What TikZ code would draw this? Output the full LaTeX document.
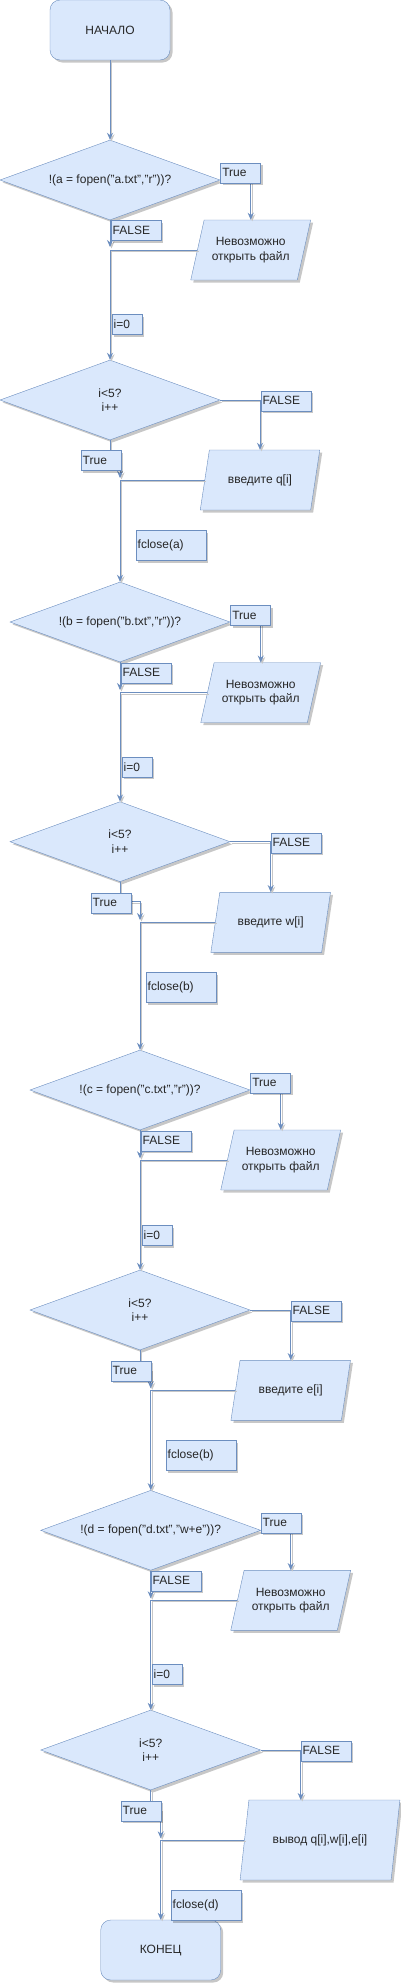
\documentclass[tikz,border=0pt]{standalone}
\usepackage{fontspec}
\setmainfont{Liberation Sans}
\usetikzlibrary{shapes.geometric,shadows,arrows.meta}
\definecolor{boxc}{HTML}{DAE8FC}
\definecolor{linec}{HTML}{6C8EBF}
\tikzset{
  shd/.style={drop shadow={shadow xshift=2.5pt, shadow yshift=-2.5pt, fill=black, opacity=0.22}},
  term/.style={shd, rectangle, rounded corners=10pt, draw=linec, fill=boxc,
    minimum width=120pt, minimum height=60pt},
  cond/.style={shd, diamond, aspect=2.75, draw=linec, fill=boxc, inner sep=1pt,
    minimum width=220pt, minimum height=80pt, align=center},
  io/.style={shd, trapezium, trapezium left angle=68, trapezium right angle=112,
    trapezium stretches=true, draw=linec, fill=boxc, inner sep=2pt,
    minimum width=#1, minimum height=60pt, align=center},
  io/.default=120pt,
  lbl/.style={shd, rectangle, draw=linec, fill=boxc, inner xsep=2pt, inner ysep=0pt,
    minimum height=20pt, text width=#1, align=left},
  flow/.style={draw=linec, line width=0.9pt,
    preaction={draw=black!22, line width=0.9pt, transform canvas={shift={(1.5pt,-1.5pt)}}}}
}
\begin{document}
\begin{tikzpicture}[x=1pt, y=-1pt, >={Stealth[length=7pt,width=6pt]},
    font=\fontsize{12}{14.3}\selectfont, text=black!85]
  \useasboundingbox (0,0) rectangle (401,1984);

  \node[term] (start) at (110,30) {НАЧАЛО};

  \node[cond] (d1) at (110,180) {!(a = fopen("a.txt","r"))?};
  \node[io] (p1) at (250.7,250) {Невозможно\\открыть файл};
  \coordinate (j1) at (110,247);
  \node[cond] (d2) at (110,400) {i<5?\\i++};
  \node[io] (p2) at (260,480) {введите q[i]};
  \coordinate (j2) at (120,478);

  \node[cond] (d3) at (120,622) {!(b = fopen("b.txt","r"))?};
  \node[io] (p3) at (260.7,692.7) {Невозможно\\открыть файл};
  \coordinate (j3) at (120,690);
  \node[cond] (d4) at (120,841.7) {i<5?\\i++};
  \node[io] (p4) at (270.7,922.3) {введите w[i]};
  \coordinate (j4) at (140,920);

  \node[cond] (d5) at (140,1090) {!(c = fopen("c.txt","r"))?};
  \node[io] (p5) at (280.7,1160) {Невозможно\\открыть файл};
  \coordinate (j5) at (140,1158.3);
  \node[cond] (d6) at (140,1310) {i<5?\\i++};
  \node[io] (p6) at (290.7,1390.3) {введите e[i]};
  \coordinate (j6) at (150.7,1388.3);

  \node[cond] (d7) at (150.7,1530.3) {!(d = fopen("d.txt","w+e"))?};
  \node[io] (p7) at (290.7,1600.3) {Невозможно\\открыть файл};
  \coordinate (j7) at (150.7,1598.3);
  \node[cond] (d8) at (150.7,1750) {i<5?\\i++};
  \node[io=160pt, minimum height=80pt] (p8) at (320,1840) {вывод q[i],w[i],e[i]};
  \coordinate (j8) at (160.7,1838.3);

  \node[term] (stop) at (160.7,1950) {КОНЕЦ};

  \draw[flow,->] (start) -- (d1);
  \foreach \d/\p in {d1/p1, d2/p2, d3/p3, d4/p4, d5/p5, d6/p6, d7/p7}
    \draw[flow,->] (\d.east) -| (\p.north);
  \draw[flow,->] (d8.east) -| (300.7,1800);
  \foreach \d/\j in {d1/j1, d3/j3, d5/j5, d7/j7}
    \draw[flow,->] (\d.south) -- (\j);
  \foreach \d/\j in {d2/j2, d4/j4, d6/j6, d8/j8}
    \draw[flow,->] (\d.south) -- ++(0,20) -| (\j);
  \foreach \p/\d in {p1/d2, p2/d3, p3/d4, p4/d5, p5/d6, p6/d7, p7/d8, p8/stop}
    \draw[flow,->] (\p.west) -| (\d.north);

  \node[lbl=36pt] (t1) at (240.3,172.7) {True};
  \node[lbl=46pt] (f1) at (135.7,230) {FALSE};
  \node[lbl=26pt] (i1) at (126.7,324.3) {i=0};
  \node[lbl=46pt] (f2) at (285.7,400.7) {FALSE};
  \node[lbl=36pt] (t2) at (100.7,460.3) {True};
  \node[lbl=66pt, minimum height=30pt] (c1) at (170.7,545.3) {fclose(a)};

  \node[lbl=36pt] (t3) at (250.3,615) {True};
  \node[lbl=46pt] (f3) at (145.7,672.7) {FALSE};
  \node[lbl=26pt] (i3) at (136.7,766.7) {i=0};
  \node[lbl=46pt] (f4) at (295.7,842.7) {FALSE};
  \node[lbl=36pt] (t4) at (110.7,902.7) {True};
  \node[lbl=66pt, minimum height=30pt] (c2) at (180.7,987.3) {fclose(b)};

  \node[lbl=36pt] (t5) at (270.3,1082.7) {True};
  \node[lbl=46pt] (f5) at (165.7,1140.7) {FALSE};
  \node[lbl=26pt] (i5) at (156.7,1235) {i=0};
  \node[lbl=46pt] (f6) at (315.7,1310.7) {FALSE};
  \node[lbl=36pt] (t6) at (130.7,1370.7) {True};
  \node[lbl=66pt, minimum height=30pt] (c3) at (200.7,1455.3) {fclose(b)};

  \node[lbl=36pt] (t7) at (280.7,1522.7) {True};
  \node[lbl=46pt] (f7) at (175.7,1580.7) {FALSE};
  \node[lbl=26pt] (i7) at (166.7,1674.3) {i=0};
  \node[lbl=46pt] (f8) at (325.7,1750.7) {FALSE};
  \node[lbl=36pt] (t8) at (140.7,1810.7) {True};
  \node[lbl=66pt, minimum height=30pt] (c4) at (205.7,1905.3) {fclose(d)};
\end{tikzpicture}
\end{document}
